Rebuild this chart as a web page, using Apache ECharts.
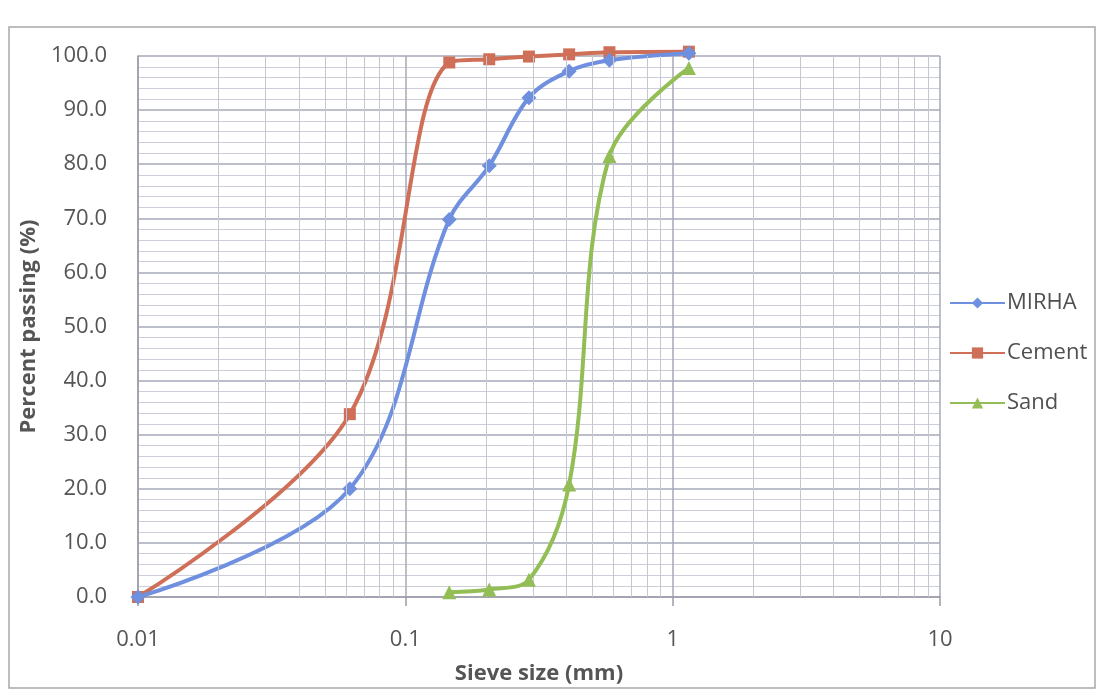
<!DOCTYPE html>
<html>
<head>
<meta charset="utf-8">
<script src="https://cdn.jsdelivr.net/npm/echarts@6/dist/echarts.min.js"></script>
<style>
  html, body { margin: 0; padding: 0; background: #fff; }
  #chart { width: 1098px; height: 696px; }
</style>
</head>
<body>
<div id="chart"></div>
<script>
// sieve sizes (mm) and percent passing
var sieveSizes = [0.01, 0.062, 0.146, 0.206, 0.29, 0.41, 0.58, 1.15];
var mirha = [0, 20, 69.8, 79.7, 92.3, 97.2, 99.2, 100.5];
var cement = [0, 33.8, 98.8, 99.4, 99.9, 100.3, 100.7, 100.8];
var sandSizes = [0.146, 0.206, 0.29, 0.41, 0.58, 1.15];
var sand = [0.9, 1.4, 3.2, 20.8, 81.5, 97.8];
var seriesNames = ['MIRHA', 'Cement', 'Sand'];
var colors = ['#6f8fdf', '#cf6f58', '#93bd55'];

function pairs(xs, ys) {
  var out = [];
  for (var i = 0; i < xs.length; i++) out.push([xs[i], ys[i]]);
  return out;
}

// log minor grid lines 2..9 inside each decade
var minorX = [];
[0.01, 0.1, 1].forEach(function (d) {
  for (var k = 2; k <= 9; k++) minorX.push({ xAxis: +(k * d).toPrecision(3) });
});

var font = 'Open Sans';
var chart = echarts.init(document.getElementById('chart'));

function curve(i, xs, ys, symbol, size, z) {
  return {
    name: seriesNames[i],
    type: 'line',
    smooth: 0.35,
    clip: false,
    symbol: symbol,
    symbolSize: size,
    itemStyle: { color: colors[i] },
    lineStyle: { width: 4, color: colors[i] },
    data: pairs(xs, ys),
    z: z
  };
}

chart.setOption({
  animation: false,
  graphic: [{
    type: 'rect',
    shape: { x: 9, y: 27, width: 1086, height: 661 },
    style: { fill: 'none', stroke: '#a8a8a8', lineWidth: 1.5 },
    silent: true
  }],
  grid: { left: 138, right: 158, top: 56, bottom: 99 },
  legend: {
    orient: 'vertical',
    left: 944,
    top: 287,
    itemWidth: 55,
    itemHeight: 14,
    itemGap: 28,
    textStyle: { fontFamily: font, fontSize: 22, color: '#505050', padding: [0, 0, 0, -3] },
    data: seriesNames
  },
  xAxis: {
    type: 'log',
    logBase: 10,
    min: 0.01,
    max: 10,
    name: 'Sieve size (mm)',
    nameLocation: 'middle',
    nameGap: 66,
    nameTextStyle: { fontFamily: font, fontSize: 22, fontWeight: 'bold', color: '#555555' },
    axisLine: { show: true, onZero: false, lineStyle: { color: '#9a9ca8', width: 1.5 } },
    axisTick: { show: true, length: 9, lineStyle: { color: '#9a9ca8', width: 1.5 } },
    axisLabel: {
      fontFamily: font, fontSize: 22, color: '#555555', margin: 32,
      formatter: function (v) { return String(+v.toPrecision(3)); }
    },
    splitLine: { show: true, lineStyle: { color: '#a6a9b8', width: 1.5 } },
    minorTick: { show: false },
    minorSplitLine: { show: false }
  },
  yAxis: {
    type: 'value',
    min: 0,
    max: 100,
    interval: 10,
    name: 'Percent passing (%)',
    nameLocation: 'middle',
    nameGap: 92,
    nameTextStyle: { fontFamily: font, fontSize: 22, fontWeight: 'bold', color: '#555555' },
    axisLine: { show: true, lineStyle: { color: '#9a9ca8', width: 1.5 } },
    axisTick: { show: false },
    axisLabel: {
      fontFamily: font, fontSize: 22, color: '#555555', margin: 31,
      formatter: function (v) { return v.toFixed(1); }
    },
    splitLine: { show: true, lineStyle: { color: '#a6a9b8', width: 1.5 } },
    minorTick: { show: false, splitNumber: 5 },
    minorSplitLine: { show: true, lineStyle: { color: '#ccced9', width: 1 } }
  },
  series: [
    {
      name: 'gridMinor',
      type: 'line',
      data: [],
      silent: true,
      markLine: {
        silent: true,
        symbol: 'none',
        label: { show: false },
        lineStyle: { color: '#c4c6d3', width: 1, type: 'solid' },
        data: minorX
      }
    },
    curve(0, sieveSizes, mirha, 'diamond', 15, 4),
    curve(1, sieveSizes, cement, 'rect', 12, 3),
    curve(2, sandSizes, sand, 'triangle', 14, 5)
  ]
});
</script>
</body>
</html>
